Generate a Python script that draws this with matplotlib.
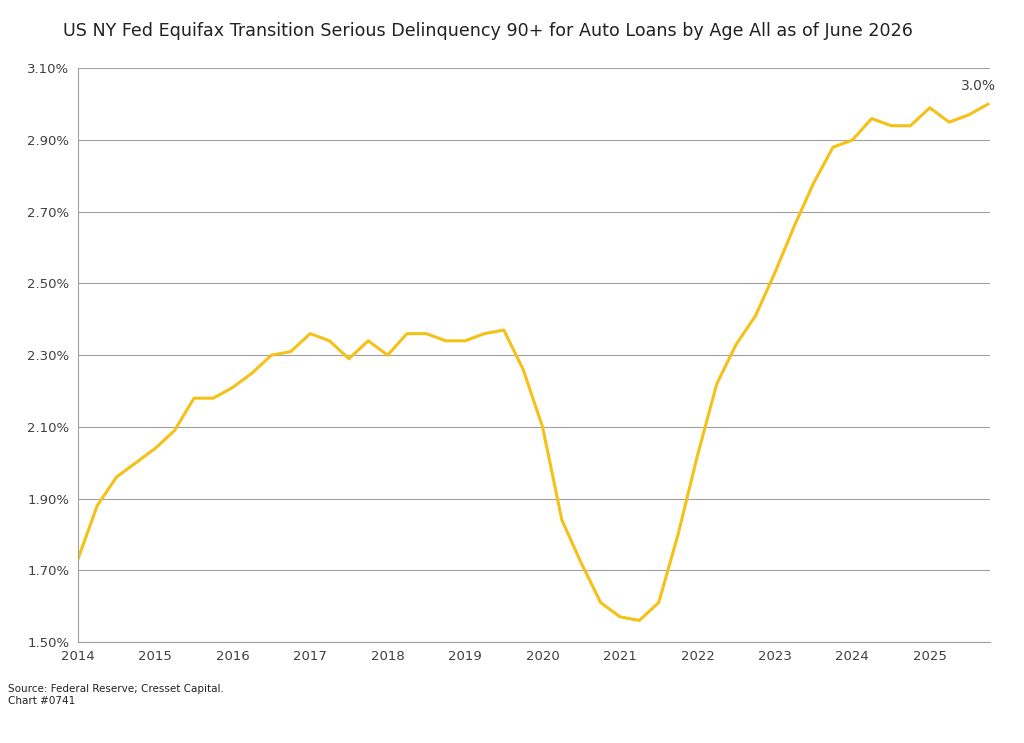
import matplotlib.pyplot as plt
import numpy as np

years = [2014 + q / 4 for q in range(48)]
delinq = [1.73, 1.88, 1.96, 2.00,
          2.04, 2.09, 2.18, 2.18,
          2.21, 2.25, 2.30, 2.31,
          2.36, 2.34, 2.29, 2.34,
          2.30, 2.36, 2.36, 2.34,
          2.34, 2.36, 2.37, 2.26,
          2.10, 1.84, 1.72, 1.61,
          1.57, 1.56, 1.61, 1.80,
          2.02, 2.22, 2.33, 2.41,
          2.53, 2.66, 2.78, 2.88,
          2.90, 2.96, 2.94, 2.94,
          2.99, 2.95, 2.97, 3.00]
yticks = np.arange(1.5, 3.11, 0.2)
xticks = list(range(2014, 2026))

fig = plt.figure(figsize=(10.24, 7.43), dpi=100)
ax = fig.add_axes([0.076, 0.136, 0.891, 0.772])
ax.plot(years, delinq, color='#F5C116', lw=2.2)
ax.set_xlim(2014, 2025.78)
ax.set_ylim(1.5, 3.1)
ax.set_yticks(yticks)
ax.set_yticklabels([f'{v:.2f}%' for v in yticks])
ax.set_xticks(xticks)
ax.grid(axis='y', color='#A0A0A0', lw=0.8)
ax.set_axisbelow(True)
for s in ['top', 'right']:
    ax.spines[s].set_visible(False)
ax.spines['left'].set_color('#A0A0A0')
ax.spines['bottom'].set_color('#A0A0A0')
ax.tick_params(length=0, labelsize=9.5, colors='#404040', pad=6)
ax.annotate(f'{delinq[-1]:.1f}%', (years[-1], delinq[-1]), xytext=(6, 8),
            textcoords='offset points', ha='right', va='bottom', fontsize=10, color='#404040')

fig.text(0.062, 0.958, 'US NY Fed Equifax Transition Serious Delinquency 90+ for Auto Loans by Age All as of June 2026',
         fontsize=12.6, color='#222222', va='center')
fig.text(0.008, 0.065, 'Source: Federal Reserve; Cresset Capital.\nChart #0741', fontsize=7.5,
         color='#222222', va='center', linespacing=1.2)
fig.savefig('out.png')
